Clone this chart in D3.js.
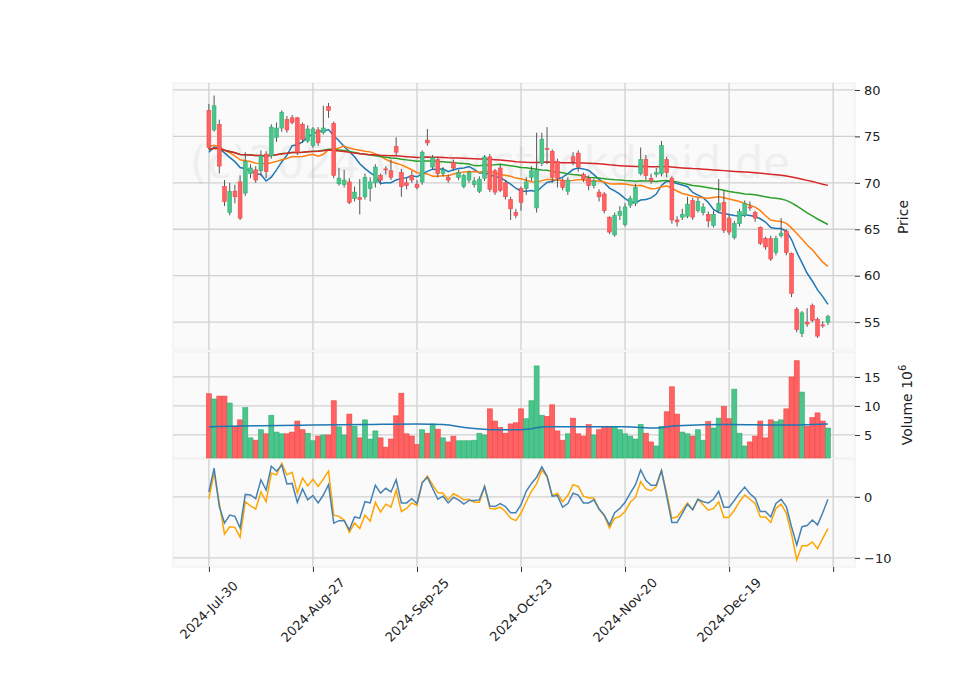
<!DOCTYPE html>
<html>
<head>
<meta charset="utf-8">
<script src="https://cdn.jsdelivr.net/npm/d3@7"></script>
<style>
  body { margin: 0; background: #fff; }
  text { font-family: "DejaVu Sans", sans-serif; }
</style>
</head>
<body>
<div id="chart"></div>
<script>
// daily bars, Jul-30 2024 .. Jan 2025
const dateLabels = ["2024-Jul-30", "2024-Aug-27", "2024-Sep-25", "2024-Oct-23", "2024-Nov-20", "2024-Dec-19", ""];
// closes before the first shown bar, only used to seed the moving averages
const priorCloses = [72.5,73.0,72.0,71.8,72.5,73.2,72.8,73.5,74.0,73.8,74.5,75.0,74.8,75.5,74.9,
  75.2,74.6,74.0,73.5,74.2,73.0,72.6,73.4,72.8,73.9,73.1,72.5,73.6,74.0,73.2];
const opens = [77.8,75.7,76.3,69.6,66.8,69.1,70.1,68.9,71.0,71.4,71.3,73.1,72.9,74.9,75.9,76.8,77.0,77.0,76.3,74.5,
  74.0,75.7,75.4,78.2,76.4,69.9,69.8,70.1,68.3,68.4,68.5,69.4,70.0,70.8,71.5,71.3,73.9,71.1,70.0,70.8,
  69.8,70.1,74.6,71.7,72.5,71.0,70.6,72.2,70.6,69.6,70.3,69.8,69.1,70.5,72.8,71.3,71.6,70.0,68.2,66.8,
  69.4,69.4,70.6,67.3,72.1,73.7,73.4,72.3,70.3,69.1,72.8,73.2,70.9,70.5,69.7,69.0,68.8,66.3,64.4,66.5,
  65.5,67.6,67.8,71.0,72.5,70.5,70.9,71.0,72.5,70.5,66.0,66.3,66.4,68.1,67.0,66.8,66.6,65.4,67.0,67.9,
  66.2,64.1,65.6,66.5,67.4,66.8,65.2,64.0,64.0,62.5,64.3,64.8,62.4,56.4,53.8,55.0,56.8,55.3,54.7,55.0];
const closes = [73.8,78.3,71.8,68.0,69.1,68.5,66.2,72.3,71.6,70.3,72.9,71.2,76.0,75.9,77.6,75.7,76.5,73.3,74.7,75.8,
  75.8,74.3,75.9,77.8,70.8,70.5,70.3,67.9,69.0,68.2,70.6,70.1,71.7,70.3,71.4,70.6,73.3,69.6,69.7,70.3,
  69.5,73.3,74.3,72.7,71.0,71.4,70.3,71.6,71.1,70.8,71.1,70.2,70.4,72.8,69.3,69.0,69.2,68.5,67.2,66.5,
  67.9,70.1,71.3,71.4,74.7,73.6,70.6,70.5,69.5,70.3,72.3,71.7,70.4,69.7,70.2,68.5,67.0,64.7,66.5,66.9,
  67.4,68.3,69.5,72.5,70.8,70.2,71.1,74.0,71.1,66.0,65.8,66.6,67.7,66.3,68.0,67.4,65.9,66.6,67.8,64.9,
  64.7,65.6,66.9,67.8,67.3,66.2,63.5,63.1,61.8,64.0,64.6,62.5,58.1,54.2,56.0,54.8,55.2,53.5,54.6,55.6];
const highs = [78.5,79.4,76.8,70.3,70.0,69.8,70.8,73.3,72.0,71.8,73.5,73.4,76.3,76.5,77.8,77.2,77.3,77.1,76.5,76.2,
  76.0,76.0,78.3,78.6,76.6,71.6,71.4,70.5,69.6,70.4,71.0,70.6,72.0,71.0,71.8,72.5,74.9,71.5,70.5,71.3,
  70.3,73.5,75.8,73.0,72.8,71.7,70.9,72.5,71.4,71.0,71.3,70.6,70.7,73.0,73.1,71.5,72.0,70.3,68.5,67.2,
  69.6,70.6,71.8,75.4,75.4,76.0,73.6,72.6,70.5,70.6,73.3,73.5,71.1,70.8,70.4,69.3,69.0,66.4,66.8,67.5,
  67.8,68.6,69.9,73.8,73.0,71.0,71.6,74.5,72.8,70.7,66.4,67.2,68.5,68.4,68.4,67.8,66.9,67.0,70.4,69.2,
  66.6,65.9,67.2,68.1,68.0,67.0,65.3,64.2,64.3,64.3,66.2,65.0,62.5,56.6,56.2,56.5,57.0,55.5,55.1,55.8];
const lows = [73.6,75.5,71.0,67.5,66.5,67.8,66.0,68.6,70.5,70.0,70.8,70.5,72.6,74.4,75.5,75.4,76.3,73.0,74.3,74.3,
  73.8,74.0,75.2,77.0,70.5,69.7,69.5,67.7,68.0,66.6,68.2,68.0,69.5,69.8,70.9,70.3,73.0,68.5,69.3,70.0,
  69.3,69.8,74.0,71.4,70.6,70.7,70.0,71.3,70.3,69.4,70.0,69.5,68.9,70.2,69.0,68.7,69.0,68.2,66.0,66.2,
  67.0,68.7,70.2,66.8,71.8,72.0,70.0,69.5,69.2,68.7,71.9,71.2,70.1,69.2,69.4,68.0,66.7,64.5,64.2,66.0,
  65.3,67.3,67.5,70.8,70.3,69.9,70.6,70.7,70.6,65.6,65.3,66.0,66.2,66.0,66.8,66.5,65.2,65.2,66.8,64.6,
  64.4,63.9,65.3,66.3,67.0,65.8,63.3,62.8,61.6,62.2,64.1,62.2,57.7,53.9,53.4,54.5,55.0,53.3,54.4,54.7];
// volume in millions
const volumes = [12.1,11.2,11.7,11.7,10.5,6.5,7.6,9.7,4.5,4.1,5.9,5.2,8.4,5.5,5.2,5.2,5.5,7.4,5.9,5.3,
  4.0,4.8,5.0,5.0,10.9,6.4,5.0,8.6,6.5,4.5,7.6,4.3,5.7,4.5,2.9,4.3,8.3,12.2,5.2,4.8,
  3.4,5.9,5.3,6.9,6.0,4.5,3.8,4.8,4.0,4.0,4.0,4.1,5.3,5.0,9.5,7.4,6.3,5.3,6.9,7.1,
  9.5,7.8,10.9,16.9,8.4,8.2,10.2,5.7,4.1,5.2,7.9,5.2,4.8,6.8,5.0,5.9,6.5,6.5,6.5,5.9,
  5.2,4.8,4.3,6.8,5.3,3.8,3.1,6.5,9.0,13.3,8.6,5.5,5.2,4.8,5.9,4.1,7.3,6.2,7.9,9.9,
  7.8,12.9,5.3,3.1,3.8,4.8,7.4,4.5,7.6,7.3,7.6,9.5,15.0,17.8,12.4,6.5,8.0,8.8,7.4,6.2];
const volMaIdx = [0,10,20,30,40,45,50,55,60,65,70,80,86,90,100,110,119];
const volMaVal = [6.4,6.6,6.7,6.8,6.9,6.8,6.2,5.9,5.9,6.4,6.4,6.4,6.2,6.6,6.8,6.7,6.9];
const indBlue = [0.8,4.7,-1.6,-4.3,-3.0,-3.2,-5.1,0.4,0.3,-0.3,2.8,1.1,5.0,4.2,5.2,2.1,2.2,-0.9,1.3,-0.5,
  0.2,-1.0,0.3,2.0,-4.3,-3.9,-3.9,-5.4,-3.3,-3.5,-0.8,-1.0,1.9,0.6,1.4,0.8,2.8,-1.0,-1.0,-0.3,
  -1.1,2.3,3.2,1.4,-0.4,0.1,-1.0,-0.1,-0.5,-1.2,-0.6,-0.6,-0.5,1.7,-1.5,-1.6,-1.1,-1.6,-2.6,-2.6,
  -1.3,0.9,2.2,3.2,4.9,3.4,0.1,0.2,-1.7,-1.1,0.6,0.3,-1.0,-1.0,-0.5,-2.0,-3.0,-4.6,-2.6,-1.9,
  -0.9,0.6,2.0,4.4,2.7,1.9,1.9,4.3,0.1,-4.2,-4.2,-2.7,-1.2,-2.1,-0.4,-0.8,-1.0,-0.4,0.9,-1.7,
  -1.7,-0.6,0.6,1.6,0.5,-0.2,-2.4,-2.4,-3.3,-1.1,-0.4,-1.6,-4.9,-7.9,-4.9,-4.7,-3.8,-4.6,-2.6,-0.4];
const indOrange = [-0.3,3.9,-1.0,-6.1,-4.9,-5.0,-6.6,-0.8,-1.5,-2.0,0.8,-0.8,3.9,3.6,5.5,3.6,4.0,0.6,3.1,1.8,
  2.9,1.7,2.9,4.2,-3.0,-3.2,-3.8,-5.8,-4.3,-5.2,-3.0,-4.0,-0.9,-2.5,-1.2,-1.7,1.1,-2.4,-1.9,-1.0,
  -1.4,2.3,3.4,2.0,0.7,0.6,-0.5,0.5,0.1,-0.5,-0.4,-0.9,-0.9,1.7,-1.9,-2.0,-1.7,-2.4,-3.5,-3.9,
  -2.7,-0.8,0.9,2.1,4.4,3.3,0.2,0.6,-0.8,0.2,2.0,1.7,0.1,-0.2,-0.2,-2.0,-3.1,-5.1,-3.5,-3.2,
  -2.4,-0.9,-0.1,2.5,1.3,1.0,1.7,4.3,0.6,-3.5,-3.3,-2.2,-1.0,-2.1,-0.4,-1.3,-2.2,-1.9,-0.8,-3.4,
  -3.3,-2.2,-0.8,0.3,-0.4,-1.1,-3.3,-3.3,-4.2,-1.9,-1.2,-2.7,-6.1,-10.3,-8.0,-8.0,-7.4,-8.5,-6.8,-5.2];
const maWindows = [10, 20, 50, 140];
const maColors = ["#1f77b4", "#ff7f0e", "#2ca02c", "#d62728"];
const priceTicks = [55, 60, 65, 70, 75, 80];
const volTicks = [5, 10, 15];
const indTicks = [-10, 0];

const W = 960, H = 690;
const left = 173, right = 855;
const svg = d3.select("#chart").append("svg").attr("width", W).attr("height", H);

const n = closes.length;
const x = d3.scaleLinear().domain([-6.9, 124.2]).range([left, right]);
const yP = d3.scaleLinear().domain([52.0, 80.75]).range([350, 83]);
const yV = d3.scaleLinear().domain([1.03, 19.3]).range([458, 352]);
const yI = d3.scaleLinear().domain([-11.5, 6.2]).range([567, 459]);
const xTicks = d3.range(0, 121, 20);

const upFill = "#4bc58c", upStroke = "#2fb071", dnFill = "#ff6262", dnStroke = "#f04545";

function panel(y, ticks, top, bottom) {
  const g = svg.append("g");
  g.append("rect").attr("x", left).attr("y", top).attr("width", right - left).attr("height", bottom - top)
    .attr("fill", "#fafafa").attr("stroke", "#eeeeee");
  g.selectAll(".vg").data(xTicks).join("line")
    .attr("x1", d => x(d)).attr("x2", d => x(d)).attr("y1", top).attr("y2", bottom)
    .attr("stroke", "#d0d0d0").attr("stroke-width", 1.3);
  g.selectAll(".hg").data(ticks).join("line")
    .attr("x1", left).attr("x2", right).attr("y1", d => y(d)).attr("y2", d => y(d))
    .attr("stroke", "#d0d0d0").attr("stroke-width", 1.3);
  const ax = svg.append("g").attr("transform", `translate(${right},0)`)
    .call(d3.axisRight(y).tickValues(ticks).tickSize(5).tickPadding(4).tickFormat(d3.format("d")));
  ax.select(".domain").remove();
  ax.selectAll("line").attr("stroke", "#333");
  ax.selectAll("text").attr("font-size", 13).attr("fill", "#222");
}
panel(yP, priceTicks, 83, 350);
panel(yV, volTicks, 352, 458);
panel(yI, indTicks, 459, 567);

// watermark
svg.append("text").attr("x", 490).attr("y", 178).attr("text-anchor", "middle")
  .attr("font-size", 44).attr("fill", "#000").attr("opacity", 0.04)
  .text("(c)2024 www.stockdroid.de");

// moving averages, seeded with the earlier closes
const all = priorCloses.concat(closes);
const off = priorCloses.length;
const idx = d3.range(n);
maWindows.forEach((w, k) => {
  const ma = idx.map(i => d3.mean(all.slice(Math.max(0, i + off - w + 1), i + off + 1)));
  svg.append("path").datum(ma).attr("fill", "none").attr("stroke", maColors[k]).attr("stroke-width", 1.5)
    .attr("d", d3.line().x((d, i) => x(i)).y(d => yP(d)));
});

// candles
const bw = 3.8;
const c = svg.append("g").selectAll("g").data(idx).join("g");
c.append("line").attr("x1", i => x(i)).attr("x2", i => x(i))
  .attr("y1", i => yP(highs[i])).attr("y2", i => yP(lows[i])).attr("stroke", "#555").attr("stroke-width", 1);
c.append("rect").attr("x", i => x(i) - bw / 2).attr("width", bw)
  .attr("y", i => yP(Math.max(opens[i], closes[i])))
  .attr("height", i => Math.max(1, Math.abs(yP(opens[i]) - yP(closes[i]))))
  .attr("fill", i => closes[i] >= opens[i] ? upFill : dnFill)
  .attr("stroke", i => closes[i] >= opens[i] ? upStroke : dnStroke).attr("stroke-width", 0.6);

// volume
const vw = 5.0;
svg.append("g").selectAll("rect").data(idx).join("rect")
  .attr("x", i => x(i) - vw / 2).attr("width", vw)
  .attr("y", i => yV(volumes[i])).attr("height", i => 458 - yV(volumes[i]))
  .attr("fill", i => closes[i] >= opens[i] ? upFill : dnFill)
  .attr("stroke", i => closes[i] >= opens[i] ? upStroke : dnStroke).attr("stroke-width", 0.6);
svg.append("path").datum(volMaIdx).attr("fill", "none").attr("stroke", "#1f77b4").attr("stroke-width", 1.5)
  .attr("d", d3.line().curve(d3.curveMonotoneX).x(i => x(i)).y((i, k) => yV(volMaVal[k])));

// indicator
[[indOrange, "#ffa500"], [indBlue, "#4682b4"]].forEach(([s, col]) => {
  svg.append("path").datum(s).attr("fill", "none").attr("stroke", col).attr("stroke-width", 1.5)
    .attr("d", d3.line().x((d, i) => x(i)).y(d => yI(d)));
});

// x axis
const xa = svg.append("g").attr("transform", "translate(0,567)")
  .call(d3.axisBottom(x).tickValues(xTicks).tickSize(5).tickFormat(""));
xa.select(".domain").remove();
xa.selectAll("line").attr("stroke", "#333");
svg.append("g").selectAll("text").data(xTicks).join("text")
  .attr("transform", d => `translate(${x(d)},610) rotate(-45)`)
  .attr("text-anchor", "middle").attr("dy", "0.35em")
  .attr("font-size", 13).attr("fill", "#222")
  .text((d, i) => dateLabels[i]);

// axis titles
svg.append("text").attr("transform", "translate(908,217) rotate(-90)").attr("text-anchor", "middle")
  .attr("font-size", 14).attr("fill", "#222").text("Price");
const vt = svg.append("text").attr("transform", "translate(912,405) rotate(-90)").attr("text-anchor", "middle")
  .attr("font-size", 14).attr("fill", "#222");
vt.append("tspan").text("Volume  10");
vt.append("tspan").attr("font-size", 10).attr("dy", -6).text("6");
</script>
</body>
</html>
